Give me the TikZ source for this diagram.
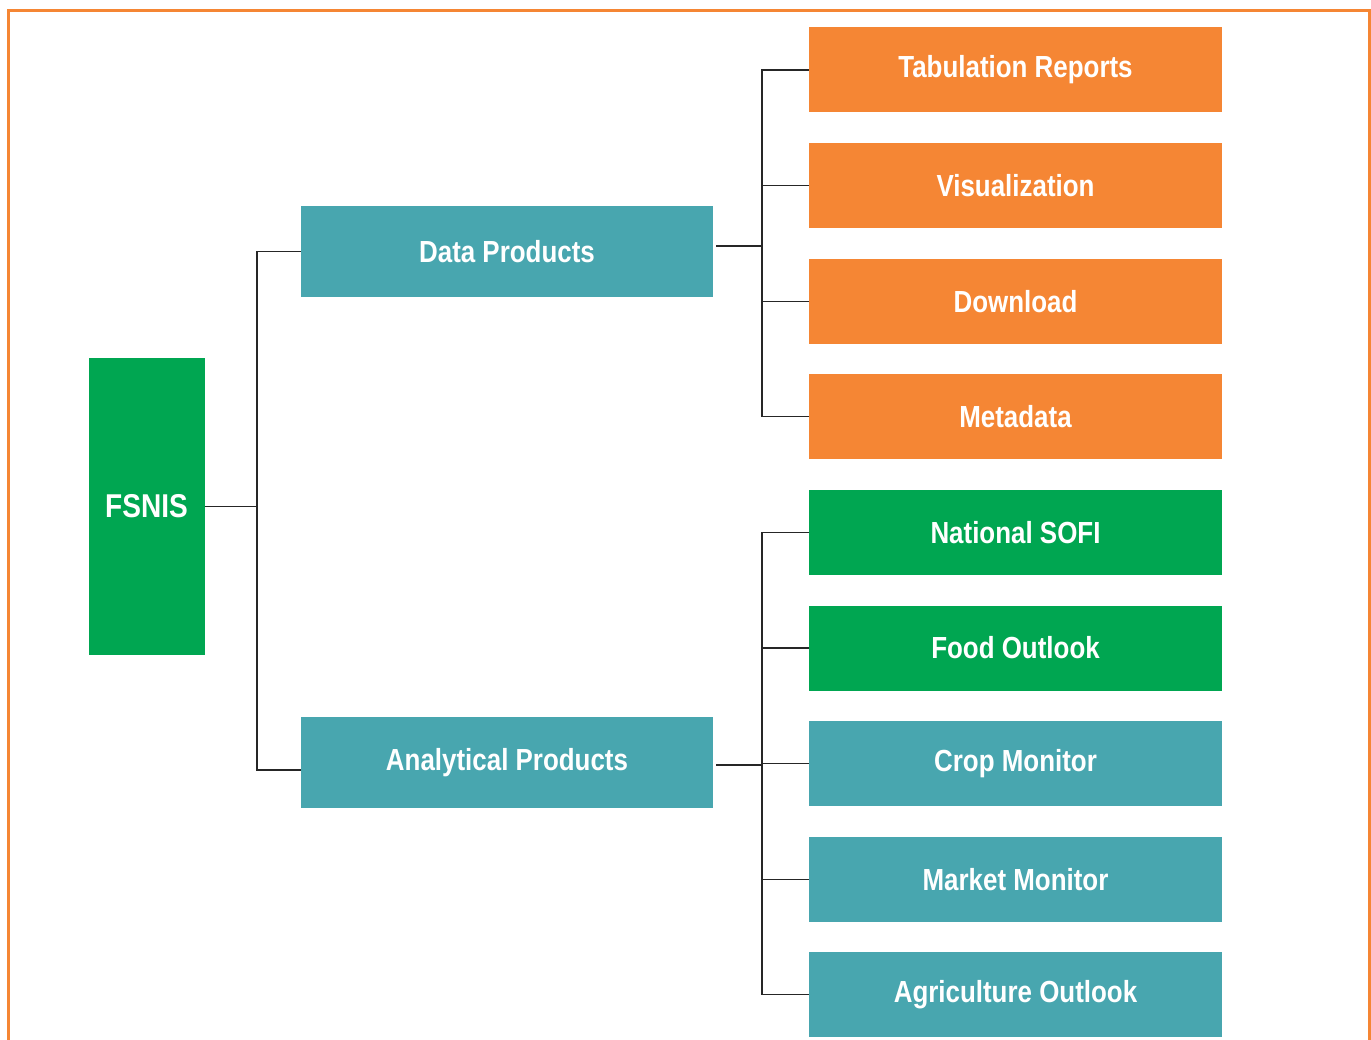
\documentclass[tikz,border=0pt]{standalone}
\usepackage{fontspec}
\setmainfont[FakeStretch=0.85]{Liberation Sans}
\definecolor{cOrange}{HTML}{F58634}
\definecolor{cFrame}{HTML}{F58634}
\definecolor{cTeal}{HTML}{48A6AF}
\definecolor{cGreen}{HTML}{00A651}
\tikzset{
  box/.style={draw=none, inner sep=0pt, text=white, font=\fontsize{30.5}{36}\selectfont\bfseries},
  leaf/.style={box, minimum width=413pt, minimum height=85pt},
  mid/.style={box, minimum width=412pt, minimum height=91pt},
  conn/.style={draw=black!85, line width=1.3pt},
}
\begin{document}
\begin{tikzpicture}[x=1pt,y=-1pt]
\useasboundingbox (0,0) rectangle (1371,1040);
\clip (0,0) rectangle (1371,1040);
\draw[cFrame, line width=3pt] (8,1060) -- (8,11) -- (1369,11) -- (1369,1060);

\node[box, fill=cGreen, minimum width=116pt, minimum height=297pt, font=\fontsize{33}{40}\selectfont\bfseries] (fsnis) at (146.5,506.5) {FSNIS};

\node[mid, fill=cTeal] (dp) at (507,251.5) {Data Products};
\node[mid, fill=cTeal] (ap) at (507,762.5) {Analytical Products};

\node[leaf, fill=cOrange] (t1) at (1015.5,70) {Tabulation Reports};
\node[leaf, fill=cOrange] (t2) at (1015.5,185.5) {Visualization};
\node[leaf, fill=cOrange] (t3) at (1015.5,301.5) {Download};
\node[leaf, fill=cOrange] (t4) at (1015.5,416.5) {Metadata};

\node[leaf, fill=cGreen] (a1) at (1015.5,532.5) {National SOFI};
\node[leaf, fill=cGreen] (a2) at (1015.5,648) {Food Outlook};
\node[leaf, fill=cTeal] (a3) at (1015.5,763.5) {Crop Monitor};
\node[leaf, fill=cTeal] (a4) at (1015.5,879.5) {Market Monitor};
\node[leaf, fill=cTeal] (a5) at (1015.5,994.5) {Agriculture Outlook};

\coordinate (j0) at (257,506.5);
\coordinate (j1) at (762,246);
\coordinate (j2) at (762,765);

\draw[conn] (fsnis.east) -- (j0);
\draw[conn] (j0) |- (dp.west);
\draw[conn] (j0) |- ([yshift=-7.5pt]ap.west);

\draw[conn] ([xshift=3pt,yshift=5.5pt]dp.east) -- (j1);
\foreach \n in {t1,t2,t3,t4} \draw[conn] (j1) |- (\n.west);

\draw[conn] ([xshift=3pt,yshift=-2.5pt]ap.east) -- (j2);
\foreach \n in {a1,a2,a3,a4,a5} \draw[conn] (j2) |- (\n.west);
\end{tikzpicture}
\end{document}
